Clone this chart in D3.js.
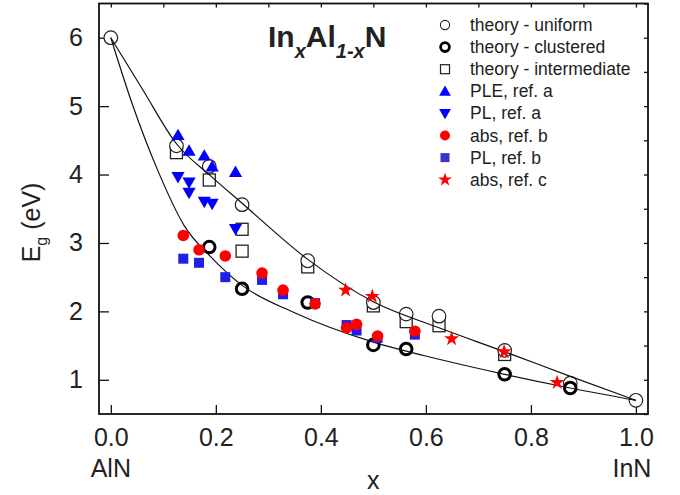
<!DOCTYPE html>
<html>
<head>
<meta charset="utf-8">
<script src="https://cdn.jsdelivr.net/npm/d3@7"></script>
<style>
  body { margin: 0; background: #fff; }
  svg text { font-family: "Liberation Sans", Arial, sans-serif; fill: #222; }
</style>
</head>
<body>
<div id="chart"></div>
<script>
// theory points
const uniformX = [0, 0.125, 0.1875, 0.25, 0.375, 0.5, 0.5625, 0.625, 0.75, 0.875, 1.0];
const uniformEg = [6.0, 4.42, 4.12, 3.56, 2.74, 2.13, 1.96, 1.93, 1.43, 0.95, 0.70];
const clusteredX = [0.1875, 0.25, 0.375, 0.5, 0.5625, 0.75, 0.875];
const clusteredEg = [2.94, 2.33, 2.13, 1.51, 1.45, 1.08, 0.88];
const intermX = [0.125, 0.1875, 0.25, 0.25, 0.375, 0.5, 0.5625, 0.625, 0.75];
const intermEg = [4.32, 3.92, 3.20, 2.88, 2.65, 2.08, 1.85, 1.79, 1.37];

// experiments
const pleAX = [0.128, 0.149, 0.178, 0.193, 0.2375];
const pleAEg = [4.56, 4.33, 4.26, 4.10, 4.02];
const plAX = [0.128, 0.149, 0.149, 0.178, 0.193, 0.2375];
const plAEg = [3.98, 3.90, 3.75, 3.62, 3.59, 3.22];
const absBX = [0.138, 0.168, 0.218, 0.288, 0.328, 0.389, 0.449, 0.468, 0.508, 0.579];
const absBEg = [3.11, 2.90, 2.81, 2.56, 2.31, 2.11, 1.76, 1.81, 1.64, 1.71];
const plBX = [0.138, 0.168, 0.218, 0.288, 0.328, 0.389, 0.449, 0.468, 0.508, 0.579];
const plBEg = [2.77, 2.71, 2.50, 2.46, 2.25, 2.12, 1.80, 1.72, 1.61, 1.66];
const absCX = [0.447, 0.498, 0.649, 0.749, 0.850];
const absCEg = [2.31, 2.22, 1.60, 1.41, 0.96];

// fitted curves
const upperFitX = [0, 0.06, 0.125, 0.19, 0.25, 0.375, 0.5, 0.625, 0.75, 0.875, 1.0];
const upperFitEg = [6.0, 5.25, 4.45, 3.98, 3.58, 2.76, 2.14, 1.76, 1.41, 1.05, 0.70];
const lowerFitX = [0, 0.04, 0.09, 0.14, 0.19, 0.25, 0.35, 0.5, 0.625, 0.75, 0.875, 1.0];
const lowerFitEg = [6.0, 5.05, 4.05, 3.25, 2.80, 2.38, 1.98, 1.55, 1.30, 1.08, 0.88, 0.70];

const xTicks = [0, 0.2, 0.4, 0.6, 0.8, 1.0];
const yTicks = [1, 2, 3, 4, 5, 6];
const legendLabels = ["theory - uniform", "theory - clustered", "theory - intermediate",
  "PLE, ref. a", "PL,  ref. a", "abs, ref. b", "PL, ref. b", "abs, ref. c"];

const W = 680, H = 495;
const margin = { top: 3.5, right: 32, bottom: 81, left: 99 };
const width = W - margin.left - margin.right;
const height = H - margin.top - margin.bottom;

const svg = d3.select("#chart").append("svg")
  .attr("width", W).attr("height", H);
const g = svg.append("g").attr("transform", `translate(${margin.left},${margin.top})`);

const x = d3.scaleLinear().domain([-0.0225, 1.023]).range([0, width]);
const y = d3.scaleLinear().domain([0.5, 6.5]).range([height, 0]);

const zip = (xs, ys) => xs.map((v, i) => ({ x: v, y: ys[i] }));

// axes, ticks pointing inward
const minorX = d3.range(0, 1.01, 0.1);
const minorY = d3.range(0.5, 6.51, 0.5);

const bottom = g.append("g").attr("transform", `translate(0,${height})`)
  .call(d3.axisBottom(x).tickValues(minorX).tickSizeInner(-5).tickSizeOuter(0).tickFormat(""));
bottom.call(d3.axisBottom(x).tickValues(xTicks).tickSizeInner(-9).tickSizeOuter(0)
  .tickPadding(14).tickFormat(d3.format(".1f")));
const left = g.append("g")
  .call(d3.axisLeft(y).tickValues(minorY).tickSizeInner(-5).tickSizeOuter(0).tickFormat(""));
left.call(d3.axisLeft(y).tickValues(yTicks).tickSizeInner(-10).tickSizeOuter(0)
  .tickPadding(16).tickFormat(d3.format("d")));
g.append("g").attr("transform", `translate(${width},0)`)
  .call(d3.axisRight(y).tickValues(minorY).tickSizeInner(-4).tickSizeOuter(0).tickFormat(""));
g.append("g")
  .call(d3.axisTop(x).tickValues(minorX).tickSizeInner(-4).tickSizeOuter(0).tickFormat(""));

g.selectAll(".domain").remove();
g.selectAll(".tick line").attr("stroke", "#111").attr("stroke-width", 1.3);
g.selectAll(".tick text").style("font-size", "25px").attr("fill", "#222");

g.append("rect")
  .attr("width", width).attr("height", height)
  .attr("fill", "none").attr("stroke", "#111").attr("stroke-width", 1.8);

// end labels and axis titles
g.append("text").attr("x", x(0)).attr("y", height + 63)
  .attr("text-anchor", "middle").style("font-size", "25px").text("AlN");
g.append("text").attr("x", x(1) - 4).attr("y", height + 63)
  .attr("text-anchor", "middle").style("font-size", "25px").text("InN");
g.append("text").attr("x", (x(0) + x(1)) / 2).attr("y", height + 75)
  .attr("text-anchor", "middle").style("font-size", "25px").text("x");

const yl = svg.append("text")
  .attr("transform", `translate(40,${margin.top + y(3.3)}) rotate(-90)`)
  .attr("text-anchor", "middle").style("font-size", "25px");
yl.append("tspan").text("E");
yl.append("tspan").attr("dy", 7).style("font-size", "16px").text("g");
yl.append("tspan").attr("dy", -7).text(" (eV)");

// title
const title = svg.append("text").attr("x", 268).attr("y", 47)
  .style("font-size", "30px").style("font-weight", "bold");
title.append("tspan").text("In");
title.append("tspan").attr("dy", 11).style("font-size", "20px").style("font-style", "italic").text("x");
title.append("tspan").attr("dy", -11).text("Al");
title.append("tspan").attr("dy", 11).style("font-size", "20px").style("font-style", "italic").text("1-x");
title.append("tspan").attr("dy", -11).text("N");

function drawSquares(data, side, fill, stroke, sw) {
  g.append("g").selectAll("rect").data(data).join("rect")
    .attr("x", d => x(d.x) - side / 2).attr("y", d => y(d.y) - side / 2)
    .attr("width", side).attr("height", side)
    .attr("fill", fill).attr("stroke", stroke).attr("stroke-width", sw);
}
function drawCircles(data, r, fill, stroke, sw) {
  g.append("g").selectAll("circle").data(data).join("circle")
    .attr("cx", d => x(d.x)).attr("cy", d => y(d.y)).attr("r", r)
    .attr("fill", fill).attr("stroke", stroke).attr("stroke-width", sw);
}
function drawSymbols(data, type, size, fill, rot) {
  g.append("g").selectAll("path").data(data).join("path")
    .attr("d", d3.symbol().type(type).size(size)())
    .attr("transform", d => `translate(${x(d.x)},${y(d.y)}) rotate(${rot})`)
    .attr("fill", fill);
}

// theory
drawSquares(zip(intermX, intermEg), 12, "none", "#222", 1.3);
drawCircles(zip(uniformX, uniformEg), 6.8, "#fff", "#222", 1.2);
drawCircles(zip(clusteredX, clusteredEg), 5.8, "#fff", "#000", 3);

// fit curves
const line = d3.line().x(d => x(d.x)).y(d => y(d.y)).curve(d3.curveMonotoneX);
g.append("path").datum(zip(upperFitX, upperFitEg)).attr("d", line)
  .attr("fill", "none").attr("stroke", "#111").attr("stroke-width", 1.2);
g.append("path").datum(zip(lowerFitX, lowerFitEg)).attr("d", line)
  .attr("fill", "none").attr("stroke", "#111").attr("stroke-width", 1.2);

// experiments
drawSquares(zip(plBX, plBEg), 10, "#1f1fe6", "none", 0);
drawCircles(zip(absBX, absBEg), 5.8, "#ff0000", "none", 0);
drawSymbols(zip(absCX, absCEg), d3.symbolStar, 70, "#ff0000", 0);
drawSymbols(zip(pleAX, pleAEg), d3.symbolTriangle, 75, "#0000ff", 0);
drawSymbols(zip(plAX, plAEg), d3.symbolTriangle, 75, "#0000ff", 180);

// legend
const lg = svg.append("g");
const lx = 445, ly0 = 25, ldy = 22.1;
const ly = i => ly0 + i * ldy;
legendLabels.forEach((t, i) => {
  lg.append("text").attr("x", 470).attr("y", ly(i) + 6)
    .style("font-size", "17.5px").text(t);
});
lg.append("circle").attr("cx", lx).attr("cy", ly(0)).attr("r", 4.6)
  .attr("fill", "#fff").attr("stroke", "#222").attr("stroke-width", 1.1);
lg.append("circle").attr("cx", lx).attr("cy", ly(1)).attr("r", 4.4)
  .attr("fill", "#fff").attr("stroke", "#000").attr("stroke-width", 2.8);
lg.append("rect").attr("x", lx - 4.5).attr("y", ly(2) - 4.5).attr("width", 9).attr("height", 9)
  .attr("fill", "none").attr("stroke", "#222").attr("stroke-width", 1.2);
lg.append("path").attr("d", d3.symbol().type(d3.symbolTriangle).size(60)())
  .attr("transform", `translate(${lx},${ly(3) + 1})`).attr("fill", "#0000ff");
lg.append("path").attr("d", d3.symbol().type(d3.symbolTriangle).size(60)())
  .attr("transform", `translate(${lx},${ly(4) - 1}) rotate(180)`).attr("fill", "#0000ff");
lg.append("circle").attr("cx", lx).attr("cy", ly(5)).attr("r", 5)
  .attr("fill", "#ff0000");
lg.append("rect").attr("x", lx - 4.5).attr("y", ly(6) - 4.5).attr("width", 9).attr("height", 9)
  .attr("fill", "#3535cc");
lg.append("path").attr("d", d3.symbol().type(d3.symbolStar).size(60)())
  .attr("transform", `translate(${lx},${ly(7)})`).attr("fill", "#ff0000");
</script>
</body>
</html>
